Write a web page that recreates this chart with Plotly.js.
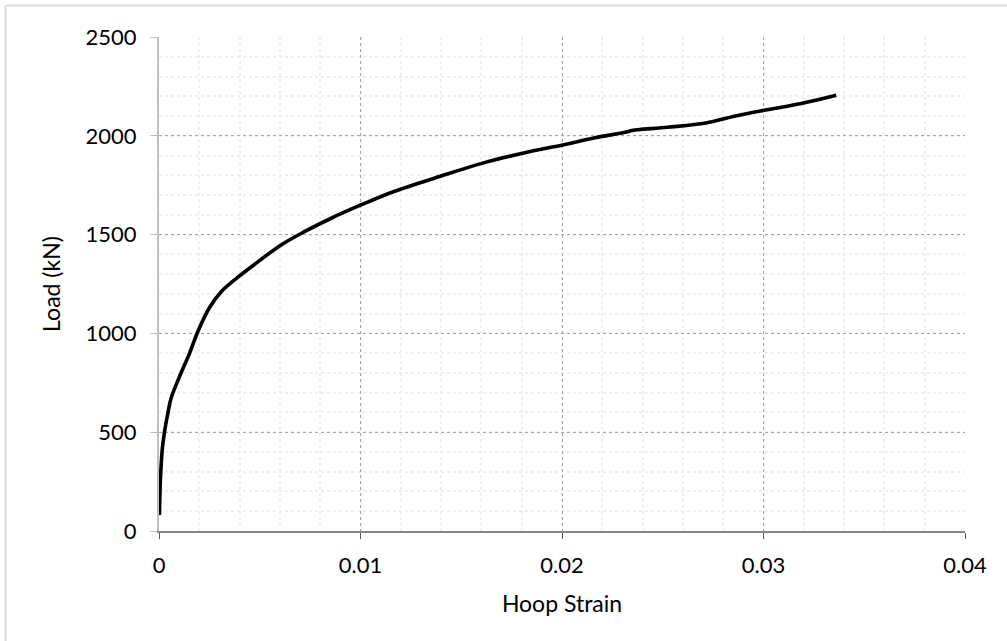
<!DOCTYPE html>
<html>
<head>
<meta charset="utf-8">
<script src="https://cdn.plot.ly/plotly-3.0.1.min.js"></script>
<style>html,body{margin:0;padding:0;background:#fff;}#chart{width:1007px;height:641px;}</style>
</head>
<body>
<div id="chart"></div>
<script>
const hoopStrain = [0.00002, 0.00007, 0.00016, 0.00027, 0.00044, 0.0006, 0.00102, 0.00152, 0.00193, 0.0025, 0.0031, 0.0039, 0.00475, 0.00608, 0.00724, 0.00857, 0.01002, 0.01163, 0.01396, 0.01611, 0.0181, 0.02009, 0.02158, 0.02324, 0.02341, 0.02523, 0.02714, 0.02855, 0.03004, 0.03187, 0.03361];
const loadKN = [81, 258, 410, 500, 596, 672, 782, 900, 1010, 1130, 1212, 1283, 1350, 1449, 1516, 1584, 1650, 1717, 1795, 1863, 1913, 1955, 1989, 2020, 2026, 2043, 2065, 2099, 2129, 2163, 2205];
const xTickVals = [0, 0.01, 0.02, 0.03, 0.04];
const xTickText = ['0', '0.01', '0.02', '0.03', '0.04'];
const yTickVals = [0, 500, 1000, 1500, 2000, 2500];

const W = 1007, H = 641;
const m = {l: 159, r: 42, t: 37, b: 110, pad: 0};
const pw = W - m.l - m.r, ph = H - m.t - m.b;
const px = v => (v - m.l) / pw;
const py = v => 1 - (v - m.t) / ph;

const trace = {
  x: hoopStrain, y: loadKN, type: 'scatter', mode: 'lines',
  line: {color: '#000000', width: 3.6, shape: 'spline', smoothing: 1},
  hoverinfo: 'skip'
};

const fam = 'Lato, "Open Sans", sans-serif';
const tickFont = {family: fam, size: 22, color: '#000000'};
const titleFont = {family: fam, size: 23, color: '#000000'};

const layout = {
  width: W, height: H, margin: m,
  paper_bgcolor: '#ffffff', plot_bgcolor: '#ffffff',
  showlegend: false, font: tickFont,
  xaxis: {
    range: [0, 0.04], tickvals: xTickVals, ticktext: xTickText,
    showgrid: true, gridcolor: '#a6a6a6', griddash: 'dot', gridwidth: 1,
    minor: {dtick: 0.002, tick0: 0, showgrid: true, gridcolor: '#efefef', gridwidth: 2, ticks: ''},
    showline: true, linecolor: '#868686', linewidth: 2,
    ticks: 'outside', ticklen: 6, tickcolor: '#595959', tickwidth: 1,
    ticklabelstandoff: 8,
    zeroline: false, tickfont: tickFont,
    title: {text: 'Hoop Strain', font: titleFont, standoff: 18}
  },
  yaxis: {
    range: [0, 2500], tickvals: yTickVals,
    showgrid: true, gridcolor: '#a6a6a6', griddash: 'dot', gridwidth: 1,
    minor: {dtick: 100, tick0: 0, showgrid: true, gridcolor: '#efefef', gridwidth: 2, ticks: ''},
    showline: true, linecolor: '#bfbfbf', linewidth: 2,
    ticks: 'outside', ticklen: 7, tickcolor: '#bfbfbf', tickwidth: 1,
    ticklabelstandoff: 9,
    zeroline: false, tickfont: tickFont,
    title: {text: 'Load (kN)', font: titleFont, standoff: 19}
  },
  shapes: [
    {type: 'line', xref: 'paper', yref: 'paper', x0: px(5.5), x1: px(1007), y0: py(5.5), y1: py(5.5), line: {color: '#d9d9d9', width: 2}},
    {type: 'line', xref: 'paper', yref: 'paper', x0: px(5.5), x1: px(5.5), y0: py(5.5), y1: py(641), line: {color: '#d9d9d9', width: 2}}
  ]
};

Plotly.newPlot('chart', [trace], layout, {displayModeBar: false, staticPlot: true});
</script>
</body>
</html>
